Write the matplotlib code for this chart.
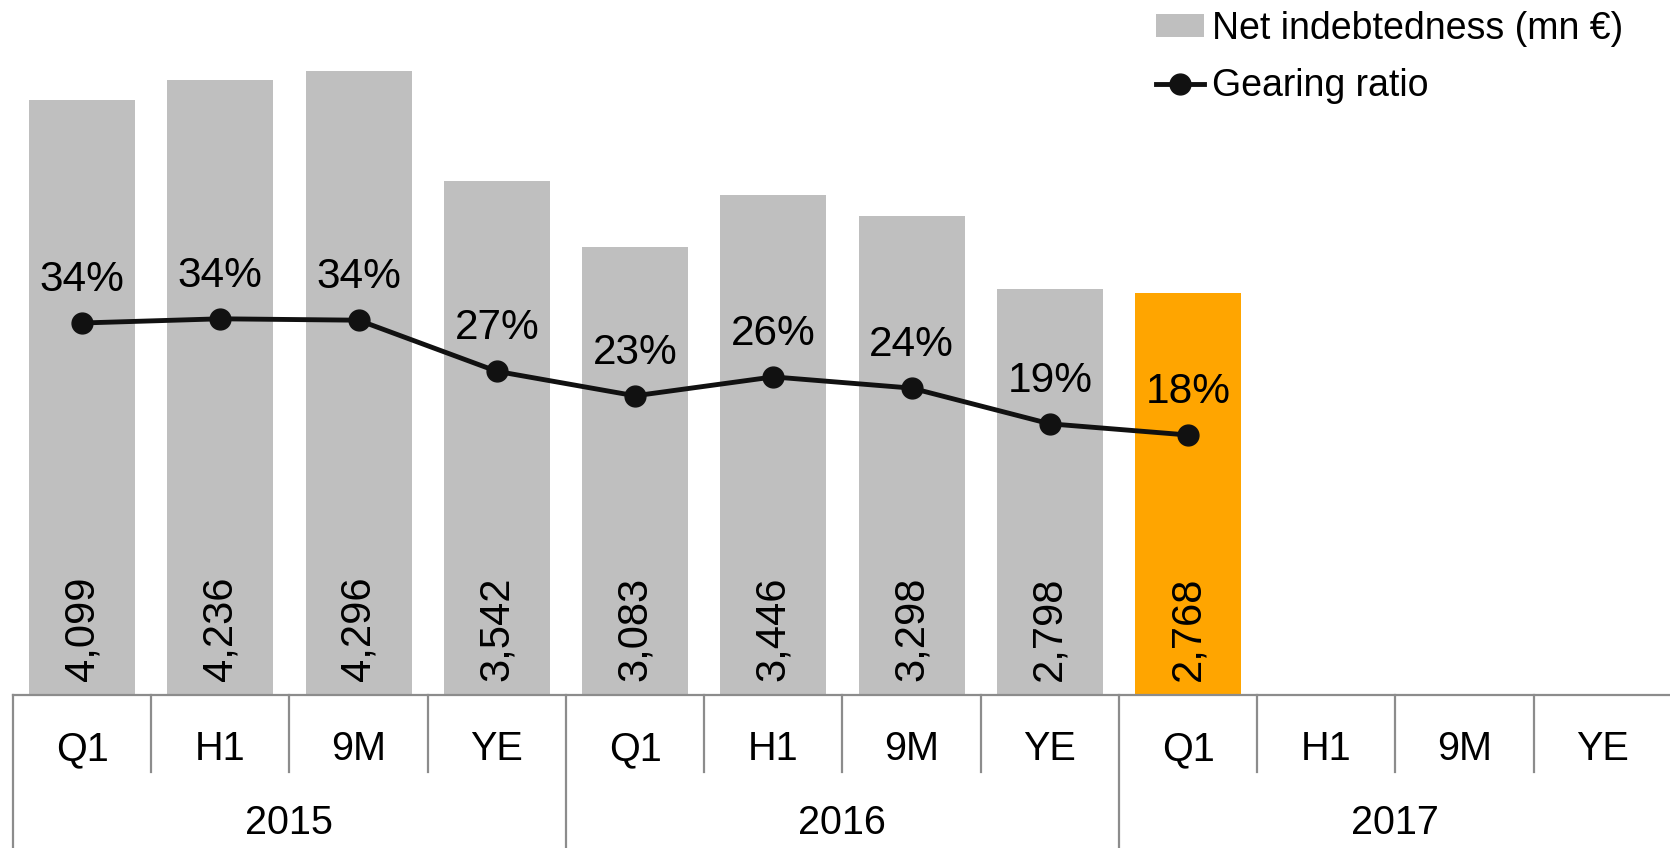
import matplotlib
matplotlib.use("Agg")
import matplotlib.pyplot as plt
from matplotlib.lines import Line2D
from matplotlib.patches import Patch
import matplotlib.transforms as mtransforms

plt.rcParams['font.family'] = ['Liberation Sans', 'DejaVu Sans']

periods = ["Q1", "H1", "9M", "YE", "Q1", "H1", "9M", "YE", "Q1", "H1", "9M", "YE"]
years = ["2015", "2016", "2017"]
net_debt = [4099, 4236, 4296, 3542, 3083, 3446, 3298, 2798, 2768]
gearing = [33.6, 34.2, 34.0, 26.7, 23.2, 25.9, 24.3, 19.2, 17.6]
bar_colors = ["#bfbfbf"] * 8 + ["#ffa500"]

W, H = 1670, 848
fig = plt.figure(figsize=(W / 100, H / 100), dpi=100)
ax_left = 12.9 / W
ax_bottom = (H - 695) / H
ax_w = 12 * 138.25 / W
ax_h = 695 / H
ax = fig.add_axes([ax_left, ax_bottom, ax_w, ax_h])
ax2 = ax.twinx()
ax.set_zorder(1)
ax2.set_zorder(2)
ax.patch.set_visible(False)
ax2.patch.set_visible(False)

x = list(range(len(net_debt)))
ax.bar(x, net_debt, width=0.767, color=bar_colors, zorder=2)
ax.set_xlim(-0.5, len(periods) - 0.5)
ax.set_ylim(0, 4788)

for xi, v in zip(x, net_debt):
    ax.annotate(f"{v:,}", (xi, 0), xytext=(0, 14), textcoords="offset pixels",
                rotation=90, ha="center", va="bottom", fontsize=30, color="black", zorder=5)

ax2.plot(x, gearing, color="#111111", lw=3.5, marker="o", markersize=15, zorder=3)
ax2.set_ylim(-19.54, 79.74)
for xi, g in zip(x, gearing):
    ax2.annotate(f"{g:.0f}%", (xi, g), xytext=(0, 32), textcoords="offset pixels",
                 ha="center", va="baseline", fontsize=30.5, color="black")

for a in (ax, ax2):
    for s in a.spines.values():
        s.set_visible(False)
    a.set_xticks([])
    a.set_yticks([])

sep_color = "#8c8c8c"
trans = mtransforms.blended_transform_factory(ax.transData, ax.transAxes)
ax.plot([-0.5, len(periods) - 0.5], [0, 0], transform=trans, color=sep_color, lw=1.6, clip_on=False, zorder=4)
y_inner = -(772 - 695) / 695
y_outer = -(848 - 695) / 695 - 0.02
for i in range(len(periods) + 1):
    xs = i - 0.5
    bottom = y_outer if i % 4 == 0 else y_inner
    ax.plot([xs, xs], [0, bottom], transform=trans, color=sep_color, lw=1.6, clip_on=False)

y_lab = -(749 - 695) / 695
for i, p in enumerate(periods):
    ax.text(i, y_lab, p, transform=trans, ha="center", va="center", fontsize=28.5)
y_year = -(823 - 695) / 695
for j, yr in enumerate(years):
    ax.text(4 * j + 1.5, y_year, yr, transform=trans, ha="center", va="center", fontsize=28.5)

handles = [Patch(facecolor="#bfbfbf", edgecolor="none"),
           Line2D([0], [0], color="#111111", lw=3.5, marker="o", markersize=15)]
labels = ["Net indebtedness (mn €)", "Gearing ratio"]
fig.legend(handles, labels, loc="upper left", bbox_to_anchor=(1156 / W, 1.0 - 11 / H),
           frameon=False, fontsize=27, borderpad=0, borderaxespad=0,
           handlelength=1.28, handleheight=0.55, handletextpad=0.2, labelspacing=0.57)

fig.savefig("out.png", dpi=100)
